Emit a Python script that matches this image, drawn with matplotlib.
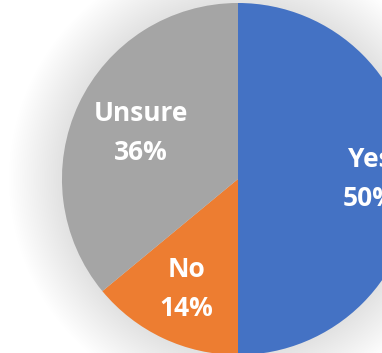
import numpy as np
import matplotlib
matplotlib.use("Agg")
import matplotlib.pyplot as plt
from matplotlib.patches import Circle

labels = ["Yes", "No", "Unsure"]
shares = [50, 14, 36]
colors = ["#4472C4", "#ED7D31", "#A5A5A5"]
label_dist = [0.75, 0.69, 0.61]

fig = plt.figure(figsize=(3.82, 3.53), dpi=100)
ax = fig.add_axes([0, 0, 1, 1])

# soft shadow around the pie
for r in np.linspace(1.30, 1.0, 30):
    ax.add_patch(Circle((0, 0), r, color="#808080", alpha=0.009, lw=0, zorder=0))

wedges, _ = ax.pie(shares, colors=colors, startangle=90, counterclock=False,
                   radius=1.0, center=(0, 0), frame=True,
                   wedgeprops=dict(linewidth=0))
ax.set_xlim(-1.352, 0.818)
ax.set_ylim(-0.989, 1.017)
ax.set_aspect("auto")
ax.axis("off")

for w, lab, val, d in zip(wedges, labels, shares, label_dist):
    mid = np.deg2rad((w.theta1 + w.theta2) / 2)
    ax.text(d * np.cos(mid), d * np.sin(mid), f"{lab}\n{val}%",
            ha="center", va="center", color="white", fontsize=19,
            fontweight="bold", family=["Open Sans", "DejaVu Sans"],
            linespacing=1.55, zorder=5)

fig.savefig("out.png", dpi=100)
